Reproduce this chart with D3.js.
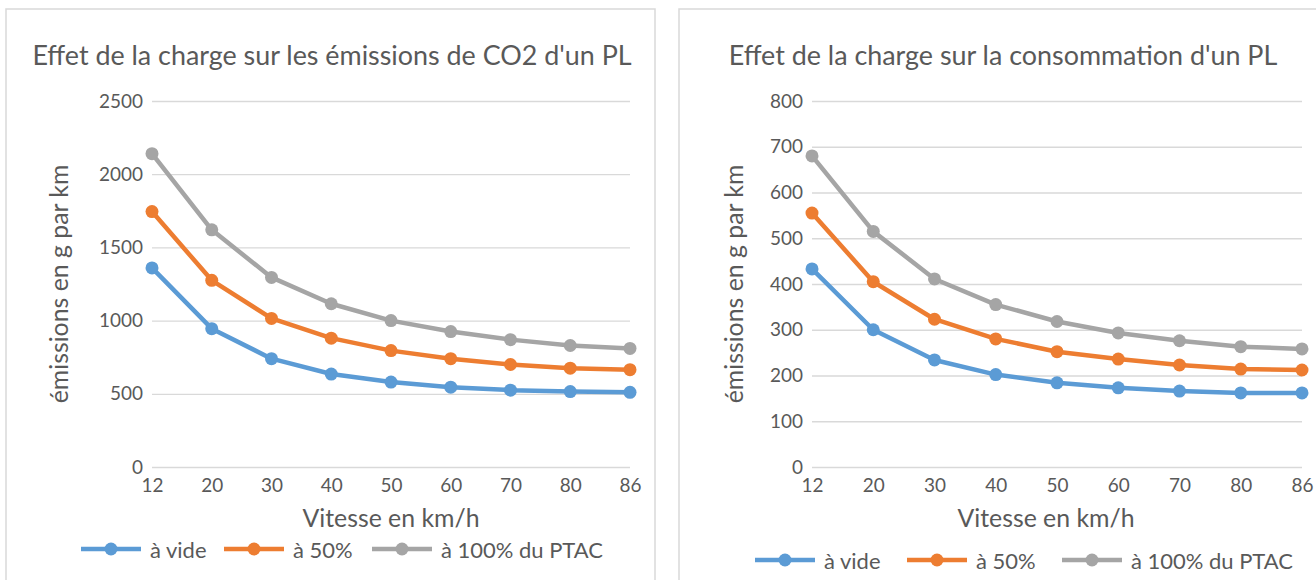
<!DOCTYPE html>
<html><head><meta charset="utf-8">
<script src="https://cdn.jsdelivr.net/npm/d3@7"></script>
<style>
html,body{margin:0;padding:0;background:#fff;overflow:hidden;}
svg{display:block;}
</style></head>
<body>
<svg id="chart" width="1316" height="580"></svg>
<script>
// ---- data ----
const categories = ["12","20","30","40","50","60","70","80","86"];
const seriesNames = ["à vide","à 50%","à 100% du PTAC"];
const co2Vide = [1360, 945, 740, 635, 580, 545, 525, 515, 510];
const co2Half = [1745, 1275, 1015, 880, 795, 740, 700, 675, 665];
const co2Full = [2140, 1620, 1295, 1115, 1000, 925, 870, 830, 810];
const consoVide = [433, 300, 234, 202, 184, 173, 166, 162, 162];
const consoHalf = [555, 405, 323, 280, 252, 236, 223, 214, 212];
const consoFull = [680, 515, 411, 355, 318, 293, 276, 263, 258];
const co2Ticks = [0, 500, 1000, 1500, 2000, 2500];
const consoTicks = [0, 100, 200, 300, 400, 500, 600, 700, 800];
const titles = ["Effet de la charge sur les émissions de CO2 d'un PL",
                "Effet de la charge sur la consommation d'un PL"];
const xTitle = "Vitesse en km/h";
const yTitle = "émissions en g par km";
const colors = ["#5B9BD5", "#ED7D31", "#A5A5A5"];

const FONT = "Lato, 'Open Sans', sans-serif";
const TXT = "#595959";
const svg = d3.select("#chart");

// measure helper to pick a font size that matches a target width
const meas = svg.append("text").attr("font-family", FONT).attr("font-size", 100).attr("x", -1000).attr("y", -1000);
function fit(str, target) { meas.text(str); return 100 * target / meas.node().getComputedTextLength(); }
const titleSize = (fit(titles[0], 595) + fit(titles[1], 553)) / 2;
const tickSize = fit("2500", 44);
const axTitleSize = (fit(xTitle, 200) + fit(yTitle, 208)) / 2;
const legSize = fit(seriesNames[2], 162);
meas.remove();

const charts = [
  {frame: {x: 6, y: 9, w: 649, h: 600}, plot: {l: 152, r: 630, t: 101, b: 467},
   title: titles[0], titleX: 332, yTitleX: 58, xTitleX: 391, xTitleY: 517, legY: 549,
   legX: [81, 224, 372], ticks: co2Ticks, data: [co2Vide, co2Half, co2Full]},
  {frame: {x: 679, y: 9, w: 700, h: 600}, plot: {l: 812, r: 1302, t: 101, b: 467},
   title: titles[1], titleX: 1003, yTitleX: 733, xTitleX: 1046, xTitleY: 517, legY: 560,
   legX: [755, 907, 1062], ticks: consoTicks, data: [consoVide, consoHalf, consoFull]}
];

charts.forEach(c => {
  const g = svg.append("g");
  g.append("rect").attr("x", c.frame.x).attr("y", c.frame.y)
    .attr("width", c.frame.w).attr("height", c.frame.h)
    .attr("fill", "#fff").attr("stroke", "#D9D9D9").attr("stroke-width", 1.5);

  const x = d3.scalePoint().domain(categories).range([c.plot.l, c.plot.r]);
  const y = d3.scaleLinear().domain([d3.min(c.ticks), d3.max(c.ticks)]).range([c.plot.b, c.plot.t]);

  // gridlines + y labels
  const ya = g.append("g").attr("transform", `translate(${c.plot.l},0)`)
    .call(d3.axisLeft(y).tickValues(c.ticks).tickSize(-(c.plot.r - c.plot.l)).tickPadding(9).tickFormat(d3.format("d")));
  ya.select(".domain").remove();
  ya.selectAll(".tick line").attr("stroke", "#D9D9D9").attr("stroke-width", 1.3);
  ya.selectAll(".tick text").attr("fill", TXT).attr("font-family", FONT).attr("font-size", tickSize);

  // x labels
  const xa = g.append("g").attr("transform", `translate(0,${c.plot.b})`)
    .call(d3.axisBottom(x).tickSize(0).tickPadding(12));
  xa.select(".domain").remove();
  xa.selectAll(".tick text").attr("fill", TXT).attr("font-family", FONT).attr("font-size", tickSize);

  // title
  g.append("text").attr("x", c.titleX).attr("y", 54).attr("text-anchor", "middle")
    .attr("dominant-baseline", "central").attr("fill", TXT).attr("font-family", FONT)
    .attr("font-size", titleSize).text(c.title);
  // axis titles
  g.append("text").attr("x", c.xTitleX).attr("y", c.xTitleY).attr("text-anchor", "middle")
    .attr("dominant-baseline", "central").attr("fill", TXT).attr("font-family", FONT)
    .attr("font-size", axTitleSize).text(xTitle);
  g.append("text").attr("transform", `translate(${c.yTitleX},${(c.plot.t + c.plot.b) / 2}) rotate(-90)`)
    .attr("text-anchor", "middle").attr("dominant-baseline", "central").attr("fill", TXT)
    .attr("font-family", FONT).attr("font-size", axTitleSize).text(yTitle);

  // series
  const line = d3.line().x((d, i) => x(categories[i])).y(d => y(d));
  c.data.forEach((vals, si) => {
    g.append("path").datum(vals).attr("d", line).attr("fill", "none")
      .attr("stroke", colors[si]).attr("stroke-width", 4.5).attr("stroke-linejoin", "round");
    g.selectAll(null).data(vals).join("circle")
      .attr("cx", (d, i) => x(categories[i])).attr("cy", d => y(d)).attr("r", 6.5)
      .attr("fill", colors[si]);
  });

  // legend
  seriesNames.forEach((name, si) => {
    const lx = c.legX[si];
    g.append("line").attr("x1", lx).attr("x2", lx + 60).attr("y1", c.legY).attr("y2", c.legY)
      .attr("stroke", colors[si]).attr("stroke-width", 4.5);
    g.append("circle").attr("cx", lx + 30).attr("cy", c.legY).attr("r", 6.5).attr("fill", colors[si]);
    g.append("text").attr("x", lx + 69).attr("y", c.legY).attr("dominant-baseline", "central")
      .attr("fill", TXT).attr("font-family", FONT).attr("font-size", legSize).text(name);
  });
});
</script>
</body></html>
